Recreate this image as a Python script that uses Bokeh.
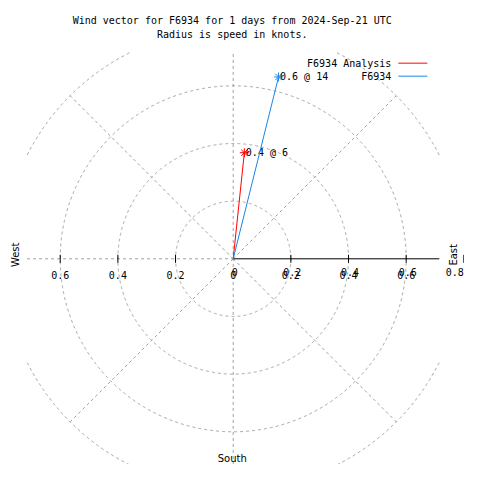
import numpy as np
from bokeh.plotting import figure
from bokeh.core.properties import value
from bokeh.embed import file_html
from bokeh.resources import INLINE

# ---------------- data ----------------
title_lines = ["Wind vector for F6934 for 1 days from 2024-Sep-21 UTC",
               "Radius is speed in knots."]
series_names = ["F6934 Analysis", "F6934"]
series_colors = ["#ff0000", "#1a86e8"]
speeds = [0.37, 0.65]          # knots
directions = [6, 14]           # degrees (compass, from north clockwise)
point_labels = ["0.4 @ 6", "0.6 @ 14"]

grid_radii = [0.2, 0.4, 0.6, 0.8]
grid_angles = [45, 135, 225, 315]
x_ticks = [-0.6, -0.4, -0.2, 0.0, 0.2, 0.4, 0.6]
x_tick_labels = ["0.6", "0.4", "0.2", "0", "0.2", "0.4", "0.6"]
r_ticks = [0.0, 0.2, 0.4, 0.6, 0.8]
r_tick_labels = ["0", "0.2", "0.4", "0.6", "0.8"]
rlim = 0.715                   # half-size of the square plotting area

# ---------------- layout ----------------
W = H = 464
S = 288.3                      # px per unit
OX, OY = 232.7, 258.3          # origin position in figure px
MONO = value("DejaVu Sans Mono")
SANS = value("DejaVu Sans")
FS = "10px"
GRID_COLOR = "#a0a0a0"
DASH = "3 3"

p = figure(width=W, height=H,
           x_range=(-OX / S, (W - OX) / S),
           y_range=(-(H - OY) / S, OY / S),
           output_backend="svg", toolbar_location=None,
           x_axis_location=None, y_axis_location=None,
           min_border=0)
p.grid.visible = False
p.outline_line_color = None
p.background_fill_color = "white"
p.border_fill_color = "white"

# ---------------- polar grid ----------------
theta = np.linspace(0, 2 * np.pi, 1441)
for r in grid_radii:
    cx = r * np.cos(theta)
    cy = r * np.sin(theta)
    mask = (np.abs(cx) <= rlim + 1e-9) & (np.abs(cy) <= rlim + 1e-9)
    cx = np.where(mask, cx, np.nan)
    cy = np.where(mask, cy, np.nan)
    p.line(cx, cy, line_color=GRID_COLOR, line_dash=DASH, line_width=1)

rmax = max(grid_radii)
for a in grid_angles:
    ar = np.deg2rad(a)
    p.line([0, rmax * np.cos(ar)], [0, rmax * np.sin(ar)],
           line_color=GRID_COLOR, line_dash=DASH, line_width=1)

# axes lines
p.line([0, 0], [-rlim, rlim], line_color=GRID_COLOR, line_dash=DASH, line_width=1)
p.line([-rlim, 0], [0, 0], line_color=GRID_COLOR, line_dash=DASH, line_width=1)
p.line([0, rlim], [0, 0], line_color="black", line_width=1)

# ticks
tick_half = 4 / S
all_ticks = sorted(set([t for t in x_ticks if t != 0] + [t for t in r_ticks if t != 0]))
p.segment(x0=all_ticks, y0=[-tick_half] * len(all_ticks),
          x1=all_ticks, y1=[tick_half] * len(all_ticks),
          line_color="black", line_width=1)

# tick labels (x axis and r axis overlap on the east side)
p.text(x=x_ticks, y=[0] * len(x_ticks), text=x_tick_labels,
       text_font=MONO, text_font_size=FS, text_align="center",
       text_baseline="middle", y_offset=16.5, text_color="black")
r_xoff = [1.5 if t < max(r_ticks) else -9 for t in r_ticks]
p.text(x=r_ticks, y=[0] * len(r_ticks), text=r_tick_labels,
       text_font=MONO, text_font_size=FS, text_align="center",
       text_baseline="middle", x_offset=r_xoff, y_offset=13.5, text_color="black")

# compass labels
p.text(x=[-rlim], y=[0], text=["West"], text_font=SANS, text_font_size=FS,
       text_align="center", text_baseline="middle", angle=np.pi / 2,
       x_offset=-12, y_offset=-4)
p.text(x=[rlim], y=[0], text=["East"], text_font=SANS, text_font_size=FS,
       text_align="center", text_baseline="middle", angle=np.pi / 2,
       x_offset=14, y_offset=-4)
p.text(x=[0], y=[-rlim], text=["South"], text_font=SANS, text_font_size=FS,
       text_align="center", text_baseline="middle",
       x_offset=-1, y_offset=-6)

# ---------------- title ----------------
p.text(x=[0], y=[OY / S], text=[title_lines[0]], text_font=MONO, text_font_size=FS,
       text_align="center", text_baseline="middle", x_offset=-1, y_offset=20)
p.text(x=[0], y=[OY / S], text=[title_lines[1]], text_font=MONO, text_font_size=FS,
       text_align="center", text_baseline="middle", x_offset=-1, y_offset=33.5)

# ---------------- wind vectors ----------------
for name, col, spd, d, lab in zip(series_names, series_colors, speeds, directions, point_labels):
    rad = np.deg2rad(d)
    vx = spd * np.sin(rad)
    vy = spd * np.cos(rad)
    p.line([0, vx], [0, vy], line_color=col, line_width=1)
    p.scatter([vx], [vy], marker="asterisk", size=9, line_color=col, line_width=1)
    p.text(x=[vx], y=[vy], text=[lab], text_font=MONO, text_font_size=FS,
           text_align="left", text_baseline="middle", x_offset=1.5)

# ---------------- legend ----------------
for i, (name, col) in enumerate(zip(series_names, series_colors)):
    yo = 11 + 13 * i
    p.text(x=[rlim], y=[rlim], text=[name], text_font=MONO, text_font_size=FS,
           text_align="right", text_baseline="middle", x_offset=-48, y_offset=yo)
    ly = rlim - (yo - 0.5) / S
    p.segment(x0=[rlim - 41 / S], y0=[ly], x1=[rlim - 12 / S], y1=[ly],
              line_color=col, line_width=1)

open("out.html", "w").write(file_html(p, INLINE))
